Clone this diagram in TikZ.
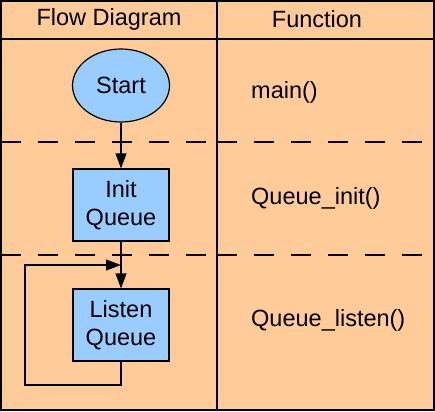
\documentclass[tikz,border=0pt]{standalone}
\usepackage{fontspec}
\setmainfont{Liberation Sans}
\usetikzlibrary{shapes.geometric,arrows.meta}
\definecolor{lane}{HTML}{FFCC99}
\definecolor{box}{HTML}{99CCFF}
\begin{document}
\begin{tikzpicture}[
    x=1pt, y=-1pt,
    font=\fontsize{23.5}{28}\selectfont,
    frame/.style={draw, line width=2pt},
    divider/.style={draw, line width=1.2pt, dash pattern=on 20pt off 17pt},
    start/.style={ellipse, draw, fill=box, line width=1.2pt, minimum width=97pt, minimum height=73pt, inner sep=0pt},
    process/.style={rectangle, draw, fill=box, line width=1.2pt, minimum width=96pt, minimum height=72pt, align=center, inner sep=0pt},
    head/.style={inner sep=0pt},
    func/.style={anchor=west, inner sep=0pt},
    arrow/.style={line width=1.2pt, -{Triangle[length=15pt,width=11pt]}}
]
\useasboundingbox (0,0) rectangle (435,411);

% Swimlane background and frame
\fill[lane] (0,0) rectangle (435,411);
\draw[frame] (1,1) rectangle (434,410);
\draw[frame] (1,39) -- (434,39);
\draw[frame] (217,1) -- (217,410);

% Separators between functions
\draw[divider] (1,142) -- (217,142);
\draw[divider] (217,142) -- (434,142);
\draw[divider] (1,255) -- (217,255);
\draw[divider] (217,255) -- (434,255);

% Headers
\node[head] (flowhead) at (109,19) {Flow Diagram};
\node[head] (funchead) at (317,19) {Function};

% Flow diagram
\node[start] (start) at (121,85.5) {Start};
\node[process] (init) at (121,205) {Init\\Queue};
\node[process] (listen) at (121,325) {Listen\\Queue};

% Function names
\node[func] (mainfn) at (251,92) {main()};
\node[func] (initfn) at (251,198) {Queue\_init()};
\node[func] (listenfn) at (251,320) {Queue\_listen()};

% Connectors
\coordinate (loopin) at (121,265);
\coordinate (loopdown) at (25,385);
\draw[arrow] (start) -- (init);
\draw[arrow] (init) -- (listen);
\draw[arrow] (listen.south) |- (loopdown) |- (loopin);

\end{tikzpicture}
\end{document}
